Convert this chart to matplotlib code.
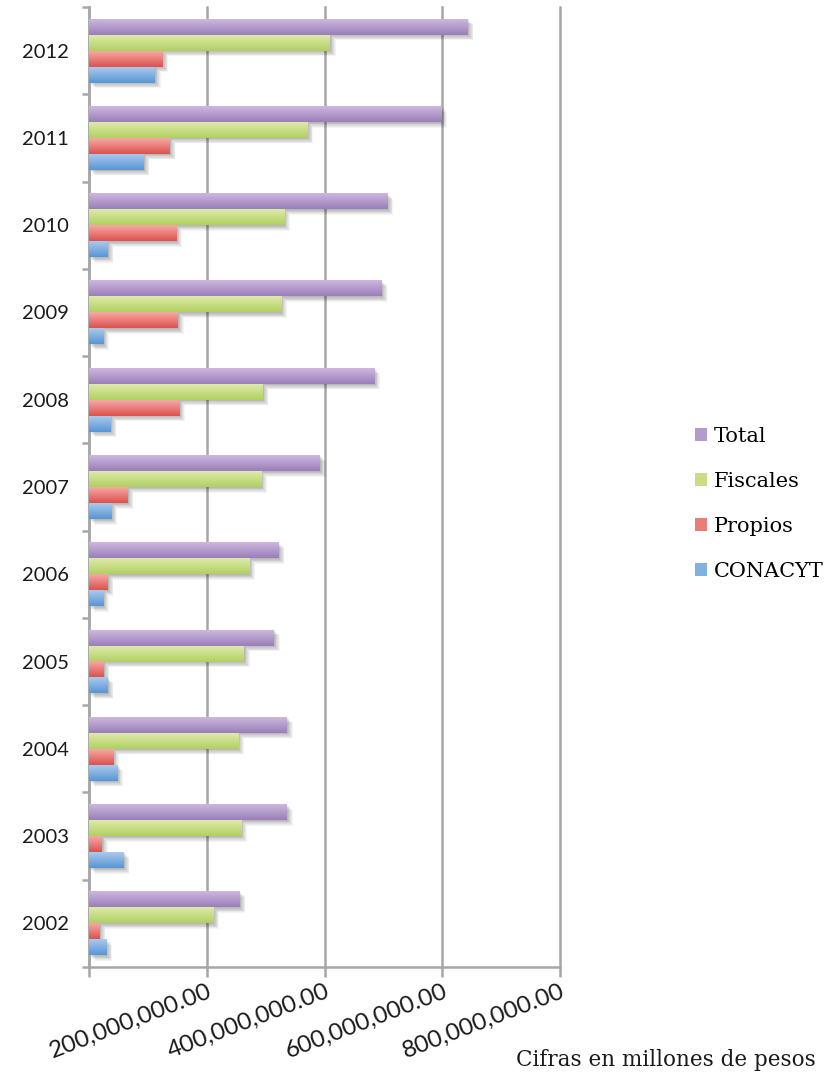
import numpy as np
import matplotlib
matplotlib.use("Agg")
import matplotlib.pyplot as plt
from matplotlib.patches import Rectangle
from matplotlib.transforms import ScaledTranslation
from matplotlib.colors import to_rgb

# Data (pesos)
years = ["2002", "2003", "2004", "2005", "2006", "2007", "2008", "2009", "2010", "2011", "2012"]
total = [256e6, 336e6, 336e6, 314e6, 322e6, 392e6, 484e6, 497e6, 507e6, 598e6, 643e6]
fiscales = [211e6, 258e6, 253e6, 263e6, 272e6, 292e6, 295e6, 326e6, 331e6, 371e6, 409e6]
propios = [18.5e6, 22e6, 41e6, 25e6, 32e6, 66e6, 153e6, 151e6, 148e6, 137e6, 125e6]
conacyt = [30e6, 59e6, 48e6, 32e6, 24e6, 38e6, 37e6, 24e6, 32e6, 93e6, 112e6]

series_names = ["Total", "Fiscales", "Propios", "CONACYT"]
series_values = [total, fiscales, propios, conacyt]
# (top, bottom) colours of each bar's vertical gradient
series_colors = [("#cdb8df", "#9a7eb9"),
                 ("#dfeaaa", "#b0d062"),
                 ("#f8a8a6", "#db524e"),
                 ("#aacaed", "#5895d5")]

xticks = [0, 200e6, 400e6, 600e6, 800e6]
xtick_labels = ["", "200,000,000.00", "400,000,000.00", "600,000,000.00", "800,000,000.00"]
xlabel = "Cifras en millones de pesos"

GRID = "#a6a6a6"
TEXT = "#1a1a1a"

fig = plt.figure(figsize=(8.24, 10.75), dpi=100)
ax = fig.add_axes([0.108, 0.1005, 0.572, 0.893])

n_cat = len(years)
bar_h = 0.183
offsets = [1.5 * bar_h, 0.5 * bar_h, -0.5 * bar_h, -1.5 * bar_h]
ypos = np.arange(n_cat)

# bars (solid base), keep patches for shadow / gradient rendering
containers = []
for vals, off, (ctop, cbot) in zip(series_values, offsets, series_colors):
    c = ax.barh(ypos + off, vals, height=bar_h, color=cbot, zorder=4, linewidth=0)
    containers.append(c)

# soft drop shadows behind the bars
for c in containers:
    for p in c.patches:
        x0, y0, w, h = p.get_x(), p.get_y(), p.get_width(), p.get_height()
        for d in range(1, 8):
            shift = ScaledTranslation(d * 0.8 / 100, -d * 0.8 / 100, fig.dpi_scale_trans)
            ax.add_patch(Rectangle((x0, y0), w, h, facecolor="black", edgecolor="none",
                                   alpha=0.045, zorder=2,
                                   transform=ax.transData + shift))

# vertical gradient on top of each bar
for c, (ctop, cbot) in zip(containers, series_colors):
    top = np.array(to_rgb(ctop))
    bot = np.array(to_rgb(cbot))
    t = np.linspace(0, 1, 64)[:, None]
    grad = (top * (1 - t) + bot * t)[:, None, :]
    for p in c.patches:
        x0, y0, w, h = p.get_x(), p.get_y(), p.get_width(), p.get_height()
        ax.imshow(grad, extent=(x0, x0 + w, y0, y0 + h), origin="upper",
                  aspect="auto", interpolation="bilinear", zorder=5)

ax.set_xlim(0, 800e6)
ax.set_ylim(-0.5, n_cat - 0.5)

# x axis
ax.set_xticks(xticks)
ax.set_xticklabels(xtick_labels, rotation=21, ha="right", va="top",
                   rotation_mode="anchor", fontsize=17.5, family="Lato", color=TEXT)
ax.tick_params(axis="x", length=7, width=1.8, color=GRID, pad=3)
ax.grid(axis="x", color=GRID, linewidth=1.8, zorder=1)
for gl in ax.get_xgridlines():
    gl.set_clip_on(False)
ax.set_axisbelow(True)

# y axis: labels at category centres, tick marks at category boundaries
ax.set_yticks(ypos)
ax.set_yticklabels(years, fontsize=14.5, family="Lato", color=TEXT)
ax.tick_params(axis="y", which="major", length=0, pad=14.5)
ax.set_yticks(np.arange(-0.5, n_cat, 1.0), minor=True)
ax.tick_params(axis="y", which="minor", length=5, width=1.8, color=GRID)

for side in ("top", "right"):
    ax.spines[side].set_visible(False)
for side in ("left", "bottom"):
    ax.spines[side].set_color(GRID)
    ax.spines[side].set_linewidth(1.8)

# legend
handles = [Rectangle((0, 0), 1, 1,
                     facecolor=tuple((np.array(to_rgb(ct)) + np.array(to_rgb(cb))) / 2),
                     edgecolor="none") for ct, cb in series_colors]
fig.legend(handles, series_names, loc="center left", bbox_to_anchor=(0.843, 0.5315),
           frameon=False, handlelength=0.6, handleheight=0.6,
           handletextpad=0.3, labelspacing=1.25, borderpad=0, borderaxespad=0,
           prop={"family": "DejaVu Serif", "size": 15})

fig.text(0.99, 1 - 1066 / 1075, xlabel, ha="right", va="baseline", fontsize=15.5,
         family="DejaVu Serif", color=TEXT)

fig.savefig("out.png", dpi=100)
